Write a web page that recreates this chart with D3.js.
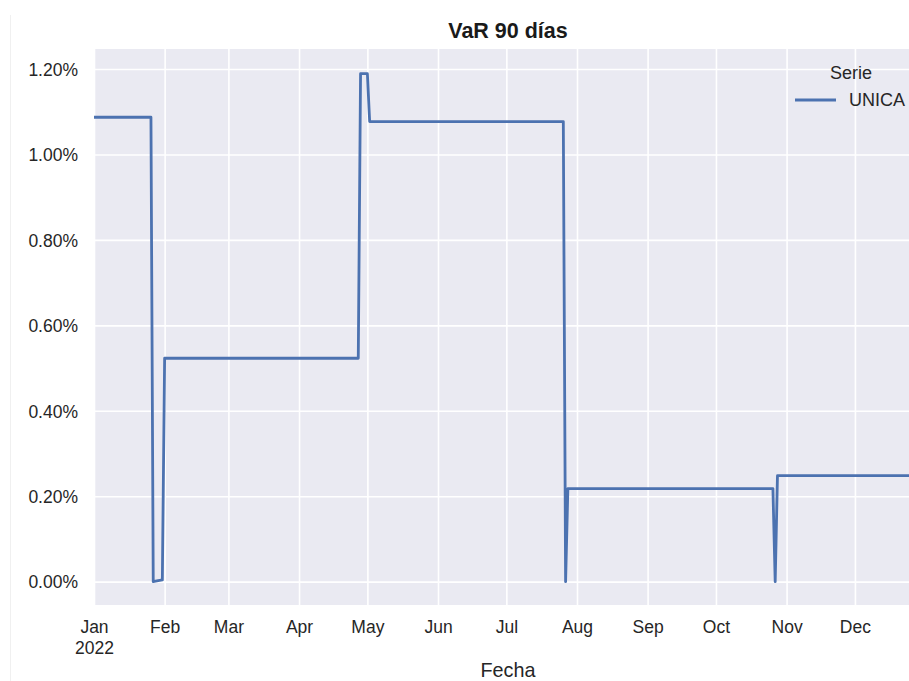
<!DOCTYPE html>
<html>
<head>
<meta charset="utf-8">
<script src="https://cdn.jsdelivr.net/npm/d3@7"></script>
<style>
  body { margin: 0; background: #ffffff; }
  svg { display: block; font-family: "Liberation Sans", Arial, sans-serif; }
  .tick-label { font-size: 17.5px; fill: #262626; }
  .title { font-size: 21.5px; font-weight: bold; fill: #1a1a1a; }
  .axis-label { font-size: 19.8px; fill: #262626; }
  .legend-text { font-size: 18px; fill: #262626; }
</style>
</head>
<body>
<div id="chart"></div>
<script>
// VaR 90 días: one series (UNICA), values in percent, points where the level changes.
const dates = [
  "2022-01-01", "2022-01-26", "2022-01-27", "2022-01-28", "2022-01-31",
  "2022-02-01", "2022-04-27", "2022-04-28", "2022-05-01", "2022-05-02",
  "2022-07-26", "2022-07-27", "2022-07-28", "2022-10-26", "2022-10-27",
  "2022-10-28", "2022-12-30"
];
const unica = [
  1.087, 1.087, 0.000, 0.001, 0.004,
  0.523, 0.523, 1.189, 1.189, 1.077,
  1.077, 0.000, 0.218, 0.218, 0.000,
  0.248, 0.248
];
const yTicks = [0, 0.2, 0.4, 0.6, 0.8, 1.0, 1.2];
const monthNames = ["Jan", "Feb", "Mar", "Apr", "May", "Jun", "Jul", "Aug", "Sep", "Oct", "Nov", "Dec"];

const width = 909;
const height = 681;
const plot = { left: 94, right: 921, top: 49, bottom: 605 };

const parse = d3.timeParse("%Y-%m-%d");
const data = dates.map((d, i) => ({ date: parse(d), value: unica[i] }));

const svg = d3.select("#chart")
  .append("svg")
  .attr("width", width)
  .attr("height", height);

// faint border on the left of the figure
svg.append("line")
  .attr("x1", 10.5).attr("x2", 10.5)
  .attr("y1", 15).attr("y2", height)
  .attr("stroke", "#f0f0f0")
  .attr("stroke-width", 1);

const x = d3.scaleTime()
  .domain([parse("2022-01-01"), parse("2022-12-30")])
  .range([plot.left, plot.right]);

const y = d3.scaleLinear()
  .domain([-0.0546, 1.2468])
  .range([plot.bottom, plot.top]);

svg.append("rect")
  .attr("x", plot.left)
  .attr("y", plot.top)
  .attr("width", plot.right - plot.left)
  .attr("height", plot.bottom - plot.top)
  .attr("fill", "#eaeaf2");

const monthTicks = monthNames.map((m, i) => new Date(2022, i, 1));

// grid lines
svg.append("g")
  .attr("transform", `translate(0, ${plot.bottom})`)
  .call(d3.axisBottom(x).tickValues(monthTicks).tickSize(-(plot.bottom - plot.top)).tickFormat(""))
  .call(g => g.select(".domain").remove())
  .call(g => g.selectAll("line").attr("stroke", "#ffffff").attr("stroke-width", 1.6));

svg.append("g")
  .attr("transform", `translate(${plot.left}, 0)`)
  .call(d3.axisLeft(y).tickValues(yTicks).tickSize(-(plot.right - plot.left)).tickFormat(""))
  .call(g => g.select(".domain").remove())
  .call(g => g.selectAll("line").attr("stroke", "#ffffff").attr("stroke-width", 1.6));

// tick labels
const xAxis = svg.append("g")
  .attr("transform", `translate(0, ${plot.bottom})`)
  .call(d3.axisBottom(x).tickValues(monthTicks).tickSize(0).tickPadding(0).tickFormat(""))
  .call(g => g.select(".domain").remove());

xAxis.selectAll(".tick").each(function(d, i) {
  const t = d3.select(this).append("text")
    .attr("class", "tick-label")
    .attr("text-anchor", "middle")
    .attr("y", 28);
  t.append("tspan").attr("x", 0).text(monthNames[i]);
  if (i === 0) t.append("tspan").attr("x", 0).attr("dy", 20.5).text("2022");
});

const yAxis = svg.append("g")
  .attr("transform", `translate(${plot.left}, 0)`)
  .call(d3.axisLeft(y).tickValues(yTicks).tickSize(0).tickPadding(0).tickFormat(""))
  .call(g => g.select(".domain").remove());

yAxis.selectAll(".tick").append("text")
  .attr("class", "tick-label")
  .attr("text-anchor", "end")
  .attr("x", -16)
  .attr("dy", "0.36em")
  .text(d => d.toFixed(2) + "%");

// series line
const line = d3.line()
  .x(d => x(d.date))
  .y(d => y(d.value));

svg.append("path")
  .datum(data)
  .attr("fill", "none")
  .attr("stroke", "#4c72b0")
  .attr("stroke-width", 2.8)
  .attr("stroke-linejoin", "round")
  .attr("d", line);

// title and axis label
svg.append("text")
  .attr("class", "title")
  .attr("x", 508)
  .attr("y", 38)
  .attr("text-anchor", "middle")
  .text("VaR 90 días");

svg.append("text")
  .attr("class", "axis-label")
  .attr("x", 508)
  .attr("y", 677)
  .attr("text-anchor", "middle")
  .text("Fecha");

// legend
const legend = svg.append("g");
legend.append("text")
  .attr("class", "legend-text")
  .attr("x", 851)
  .attr("y", 79)
  .attr("text-anchor", "middle")
  .text("Serie");
legend.append("line")
  .attr("x1", 795).attr("x2", 836)
  .attr("y1", 100).attr("y2", 100)
  .attr("stroke", "#4c72b0")
  .attr("stroke-width", 2.8);
legend.append("text")
  .attr("class", "legend-text")
  .attr("x", 849)
  .attr("y", 106)
  .text("UNICA");
</script>
</body>
</html>
